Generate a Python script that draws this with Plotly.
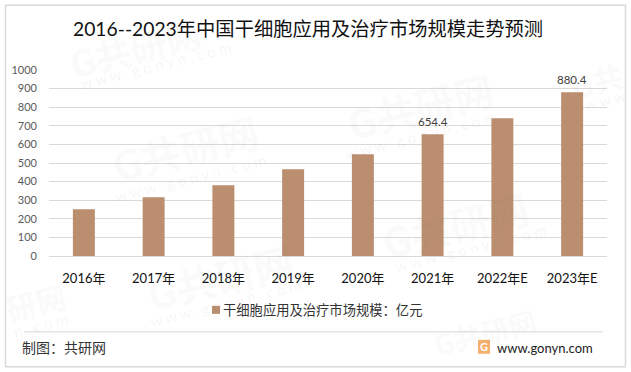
import plotly.graph_objects as go

categories = ["2016年", "2017年", "2018年", "2019年", "2020年", "2021年", "2022年E", "2023年E"]
values = [252, 316, 381, 466, 547, 654.4, 740, 880.4]
bar_labels = ["", "", "", "", "", "654.4", "", "880.4"]
y_ticks = [0, 100, 200, 300, 400, 500, 600, 700, 800, 900, 1000]
title_text = "2016--2023年中国干细胞应用及治疗市场规模走势预测"
series_name = "干细胞应用及治疗市场规模：亿元"
source_text = "制图：共研网"
site_text = "www.gonyn.com"
# watermarks: text, centre in page pixels, font size
mark_logos = [("G共研网", 135, 46, 36), ("G共研网", 185, 148, 40), ("G共研网", 420, 106, 40),
              ("G共研网", 220, 277, 40), ("G共研网", 455, 225, 40), ("G共研网", 485, 332, 28),
              ("研网", 36, 302, 30), ("G共", 597, 80, 30)]
mark_sites = [("w w w . g o n y n . c o m", 155, 64), ("w w w . g o n y n . c o m", 190, 178),
              ("w w w . g o n y n . c o m", 420, 135), ("w w w . g o n y n . c o m", 225, 303),
              ("w w w . g o n y n . c o m", 470, 248), ("n . c o m", 40, 325), ("w w w", 605, 100)]

W, H = 631, 372
FONT = "Lato, 'Noto Sans CJK SC', sans-serif"
BAR = "#BA8E6E"
GRID = "#D9D9D9"
L, R, T, B = 49, 607, 69.5, 256


def px(x):
    return (x - L) / (R - L)


def py(y):
    return (B - y) / (B - T)


def note(text, x, y, size, color, family=FONT, xanchor="center", angle=0):
    return dict(xref="paper", yref="paper", x=px(x), y=py(y), text=text, showarrow=False,
                xanchor=xanchor, yanchor="middle", textangle=angle,
                font=dict(family=family, size=size, color=color))


fig = go.Figure()
fig.add_trace(go.Bar(
    x=categories, y=values, name=series_name, marker=dict(color=BAR, line=dict(width=0)),
    width=0.315, showlegend=False,
))

annotations = []
for text, mx, my, size in mark_logos:
    annotations.append(note("<b>%s</b>" % text, mx, my, size, "rgba(120,120,120,0.055)",
                            family="'Noto Sans CJK SC'", angle=-14))
for text, mx, my in mark_sites:
    annotations.append(note(text, mx, my, 15, "rgba(120,120,120,0.08)", family="Lato", angle=-14))

for cat, val, lab in zip(categories, values, bar_labels):
    if lab:
        annotations.append(dict(xref="x", yref="y", x=cat, y=val, text=lab, showarrow=False,
                                xanchor="center", yanchor="bottom", yshift=4,
                                font=dict(family=FONT, size=11.5, color="#404040")))

annotations += [
    note(title_text, 307.5, 28, 19.3, "#111111"),
    note(series_name, 221, 310, 13.3, "#333333", xanchor="left"),
    note(source_text, 20, 348, 14, "#333333", xanchor="left"),
    note(site_text, 495, 348, 13, "#222222", xanchor="left"),
    note("<b>G</b>", 484, 347, 11, "#FFFFFF"),
]

shapes = [
    dict(type="rect", xref="paper", yref="paper", x0=px(5.5), x1=px(625.5), y0=py(367), y1=py(4.5),
         line=dict(color=GRID, width=1.5), layer="below"),
    dict(type="line", xref="paper", yref="paper", x0=px(24), x1=px(603), y0=py(332), y1=py(332),
         line=dict(color=GRID, width=1)),
    dict(type="rect", xref="paper", yref="paper", x0=px(478), x1=px(490), y0=py(354), y1=py(340),
         fillcolor="#F5B06E", line=dict(width=0)),
    dict(type="rect", xref="paper", yref="paper", x0=px(212), x1=px(220), y0=py(314), y1=py(306),
         fillcolor=BAR, line=dict(width=0)),
]

fig.update_layout(
    width=W, height=H, autosize=False,
    paper_bgcolor="white", plot_bgcolor="rgba(0,0,0,0)",
    margin=dict(l=L, r=W - R, t=T, b=H - B),
    font=dict(family=FONT),
    bargap=0.685,
    showlegend=False,
    xaxis=dict(type="category", showgrid=False, showline=True, linecolor=GRID, linewidth=1, ticks="",
               ticklabelstandoff=10, tickfont=dict(family=FONT, size=13, color="#111111")),
    yaxis=dict(range=[0, 1000], tickvals=y_ticks, gridcolor=GRID, gridwidth=1, zeroline=False, ticks="",
               ticklabelstandoff=11, tickfont=dict(family=FONT, size=11, color="#595959")),
    annotations=annotations, shapes=shapes,
)

fig.write_html("out.html", config={"displayModeBar": False}, post_script="document.body.style.margin='0';")
